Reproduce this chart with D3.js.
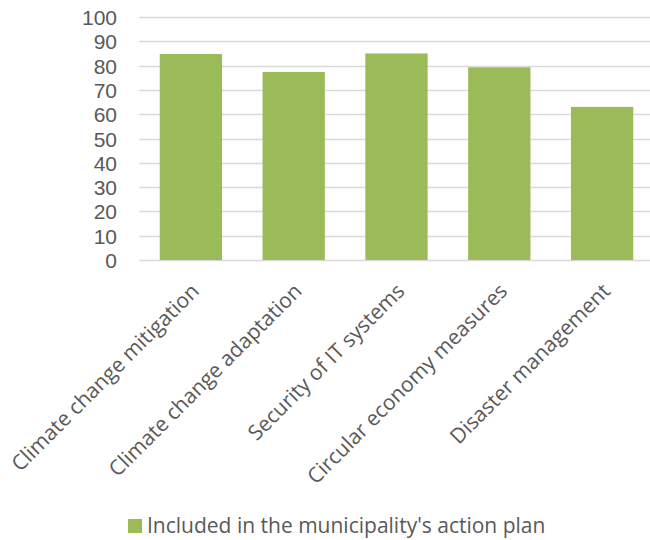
<!DOCTYPE html>
<html><head><meta charset="utf-8">
<script src="https://cdn.jsdelivr.net/npm/d3@7"></script>
<style>body{margin:0;background:#fff}svg{display:block}text{font-family:"Open Sans",sans-serif;fill:#595959}</style>
</head><body><svg id="c" width="650" height="540"></svg>
<script>
const categories = ["Climate change mitigation","Climate change adaptation","Security of IT systems","Circular economy measures","Disaster management"];
const values = [84.8, 77.4, 85.0, 79.3, 63.0];
const yTicks = [0,10,20,30,40,50,60,70,80,90,100];
const seriesName = "Included in the municipality's action plan";

const svg = d3.select("#c");
const x = d3.scaleBand().domain(categories).range([139.5, 653.5]).paddingInner(0.394).paddingOuter(0.197);
const y = d3.scaleLinear().domain([0,100]).range([260, 17]);

// gridlines
svg.append("g").selectAll("line").data(yTicks).join("line")
  .attr("x1",139.5).attr("x2",653.5)
  .attr("y1",d=>Math.round(y(d))+0.5).attr("y2",d=>Math.round(y(d))+0.5)
  .attr("stroke","#d9d9d9").attr("stroke-width",1.5);

// y labels
const yAxis = d3.axisLeft(y).tickValues(yTicks).tickSize(0).tickPadding(0);
const ya = svg.append("g").attr("transform","translate(117,0)").call(yAxis);
ya.select(".domain").remove();
ya.selectAll("text").style("font-family","'Liberation Sans',Arial,sans-serif").style("font-size","21px").attr("dy","0.36em").style("fill","#595959");

// bars
svg.append("g").selectAll("rect").data(values).join("rect")
  .attr("x",(d,i)=>x(categories[i])).attr("width",x.bandwidth())
  .attr("y",d=>y(d)).attr("height",d=>y(0)-y(d))
  .attr("fill","#9bbb59");

// x labels
svg.append("g").selectAll("text").data(categories).join("text")
  .attr("transform",d=>`translate(${x(d)+x.bandwidth()/2-1},${282}) rotate(-45)`)
  .attr("text-anchor","end").attr("dy","0.7em")
  .style("font-size","21px").text(d=>d);

// legend
const lg = svg.append("g");
lg.append("rect").attr("x",128).attr("y",519).attr("width",14).attr("height",14).attr("fill","#9bbb59");
lg.append("text").attr("x",147).attr("y",533).style("font-size","21px").text(seriesName);
</script></body></html>
